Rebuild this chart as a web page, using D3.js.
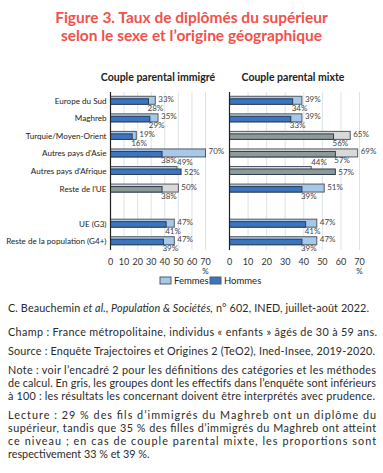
<!DOCTYPE html>
<html>
<head>
<meta charset="utf-8">
<script src="https://cdn.jsdelivr.net/npm/d3@7"></script>
<style>
  body { margin: 0; background: #fff; }
  svg text { font-family: Lato, "Liberation Sans", sans-serif; }
</style>
</head>
<body>
<div id="chart"></div>
<script>
var categories = ["Europe du Sud", "Maghreb", "Turquie/Moyen-Orient", "Autres pays d'Asie",
                  "Autres pays d'Afrique", "Reste de l'UE", "_gap", "UE (G3)", "Reste de la population (G4+)"];
var imm_femmes = [33, 35, 19, 70, 49, 50, null, 47, 47];
var imm_hommes = [28, 29, 16, 38, 52, 38, null, 41, 39];
var mix_femmes = [39, 39, 65, 69, 44, 51, null, 47, 47];
var mix_hommes = [34, 33, 56, 57, 57, 39, null, 41, 39];
// groupes aux effectifs < 100 (en gris)
var imm_gris = [0, 0, 0, 0, 0, 1, 0, 0, 0];
var mix_gris = [0, 0, 1, 1, 1, 0, 0, 0, 0];
var x_ticks = [0, 10, 20, 30, 40, 50, 60, 70];
var panel_titles = ["Couple parental immigré", "Couple parental mixte"];
var legend_items = ["Femmes", "Hommes"];

var title_lines = ["Figure 3. Taux de diplômés du supérieur", "selon le sexe et l’origine géographique"];
var notes = [
  {"y": 312, "w": 361, "html": "C. Beauchemin <tspan font-style='italic'>et al., Population &amp; Sociétés,</tspan> n° 602, INED, juillet-août 2022."},
  {"y": 336, "w": 369, "html": "Champ : France métropolitaine, individus « enfants » âgés de 30 à 59 ans."},
  {"y": 355, "w": 367, "html": "Source : Enquête Trajectoires et Origines 2 (TeO2), Ined-Insee, 2019-2020."},
  {"y": 374, "w": 368, "html": "Note : voir l’encadré 2 pour les définitions des catégories et les méthodes"},
  {"y": 387, "w": 368, "html": "de calcul. En gris, les groupes dont les effectifs dans l’enquête sont inférieurs"},
  {"y": 400, "w": 367, "html": "à 100 : les résultats les concernant doivent être interprétés avec prudence."},
  {"y": 419, "w": 368, "html": "Lecture : 29 % des fils d’immigrés du Maghreb ont un diplôme du"},
  {"y": 432, "w": 368, "html": "supérieur, tandis que 35 % des filles d’immigrés du Maghreb ont atteint"},
  {"y": 445, "w": 368, "html": "ce niveau ; en cas de couple parental mixte, les proportions sont"},
  {"y": 458, "w": 0, "html": "respectivement 33 % et 39 %."}
];

var colors = {"f": "#a8c8e8", "h": "#3b75c2", "f_gris": "#d9d9d9", "h_gris": "#8e9a98", "stroke": "#2c3e50"};

var W = 383, H = 473;
var svg = d3.select("#chart").append("svg").attr("width", W).attr("height", H);

// title
svg.selectAll("text.title").data(title_lines).enter().append("text")
   .attr("class", "title")
   .attr("x", W / 2).attr("y", function(d, i) { return 23 + i * 18; })
   .attr("text-anchor", "middle")
   .attr("fill", "#f0524c").style("font-weight", "bold").style("font-size", "15.5px")
   .text(function(d) { return d; });

var y = d3.scaleBand().domain(categories).range([92, 250]).paddingInner(0).paddingOuter(0);

var panels = [
  {"x0": 110.5, "x1": 205.5, "f": imm_femmes, "h": imm_hommes, "gris": imm_gris},
  {"x0": 229.5, "x1": 359.5, "f": mix_femmes, "h": mix_hommes, "gris": mix_gris}
];
var title_cx = [158, 293];

panels.forEach(function(p, pi) {
  var x = d3.scaleLinear().domain([0, 70]).range([p.x0, p.x1]);
  var g = svg.append("g");

  // grid
  g.selectAll("line.grid").data(x_ticks.slice(1)).enter().append("line")
     .attr("x1", function(d) { return x(d); }).attr("x2", function(d) { return x(d); })
     .attr("y1", 92).attr("y2", 250)
     .attr("stroke", "#dde3e3").attr("stroke-width", 1);

  // tick labels
  g.selectAll("text.tick").data(x_ticks).enter().append("text")
     .attr("x", function(d) { return x(d); }).attr("y", 265)
     .attr("text-anchor", "middle").attr("fill", "#333").style("font-size", "9px")
     .text(function(d) { return d; });
  g.append("text").attr("x", x(70)).attr("y", 274).attr("text-anchor", "middle")
     .attr("fill", "#333").style("font-size", "8px").text("%");

  g.append("text").attr("x", title_cx[pi]).attr("y", 81)
     .attr("text-anchor", "middle").attr("fill", "#222")
     .style("font-size", "10.5px").style("font-weight", "bold")
     .text(panel_titles[pi]);

  var rows = categories.map(function(c, i) {
    return {"cat": c, "f": p.f[i], "h": p.h[i], "gris": p.gris[i]};
  }).filter(function(d) { return d.f != null; });

  var c = function(d) { return y(d.cat) + y.bandwidth() / 2; };

  // femmes (behind)
  g.selectAll("rect.f").data(rows).enter().append("rect")
     .attr("x", x(0)).attr("y", function(d) { return c(d) - 4.5; })
     .attr("width", function(d) { return x(d.f) - x(0); }).attr("height", 8)
     .attr("fill", function(d) { return d.gris ? colors.f_gris : colors.f; })
     .attr("stroke", "#505a66").attr("stroke-width", 1);
  // hommes
  g.selectAll("rect.h").data(rows).enter().append("rect")
     .attr("x", x(0)).attr("y", function(d) { return c(d) - 2; })
     .attr("width", function(d) { return x(d.h) - x(0); }).attr("height", 5.5)
     .attr("fill", function(d) { return d.gris ? colors.h_gris : colors.h; })
     .attr("stroke", colors.stroke).attr("stroke-width", 1);

  // labels
  g.selectAll("text.lf").data(rows).enter().append("text")
     .attr("x", function(d) { return d.f >= d.h ? x(d.f) + 3 : x(d.f); })
     .attr("y", function(d) { return d.f >= d.h ? c(d) + 1 : c(d) - 6; })
     .attr("fill", "#444").style("font-size", "8px")
     .text(function(d) { return d.f + "%"; });
  g.selectAll("text.lh").data(rows).enter().append("text")
     .attr("x", function(d) { return d.f >= d.h ? x(d.h) - 1 : x(d.h) + 3; })
     .attr("y", function(d) { return d.f >= d.h ? c(d) + 10 : c(d) + 4; })
     .attr("fill", "#444").style("font-size", "8px")
     .text(function(d) { return d.h + "%"; });

  // axis
  g.append("line").attr("x1", x(0)).attr("x2", x(0)).attr("y1", 92).attr("y2", 250)
     .attr("stroke", "#222").attr("stroke-width", 1.2);

  if (pi == 0) {
    g.selectAll("text.cat").data(rows).enter().append("text")
       .attr("x", x(0) - 4).attr("y", function(d) { return c(d) + 3; })
       .attr("text-anchor", "end").attr("fill", "#222").style("font-size", "8.1px")
       .text(function(d) { return d.cat; });
  }
});

// legend
var leg = svg.append("g").selectAll("g").data(legend_items).enter().append("g")
   .attr("transform", function(d, i) { return "translate(" + (160 + i * 50) + ",277)"; });
leg.append("rect").attr("width", 11).attr("height", 7)
   .attr("fill", function(d, i) { return i == 0 ? colors.f : colors.h; })
   .attr("stroke", "#505a66");
leg.append("text").attr("x", 14).attr("y", 7).attr("fill", "#222").style("font-size", "9.5px")
   .text(function(d) { return d; });

// notes
svg.selectAll("text.note").data(notes).enter().append("text")
   .attr("class", "note")
   .attr("x", 8).attr("y", function(d) { return d.y; })
   .attr("fill", "#2a2a2a").style("font-size", "10.8px")
   .each(function(d) {
     d3.select(this).html(d.html);
     if (d.w > 0) d3.select(this).attr("textLength", d.w).attr("lengthAdjust", "spacing");
   });
</script>
</body>
</html>
